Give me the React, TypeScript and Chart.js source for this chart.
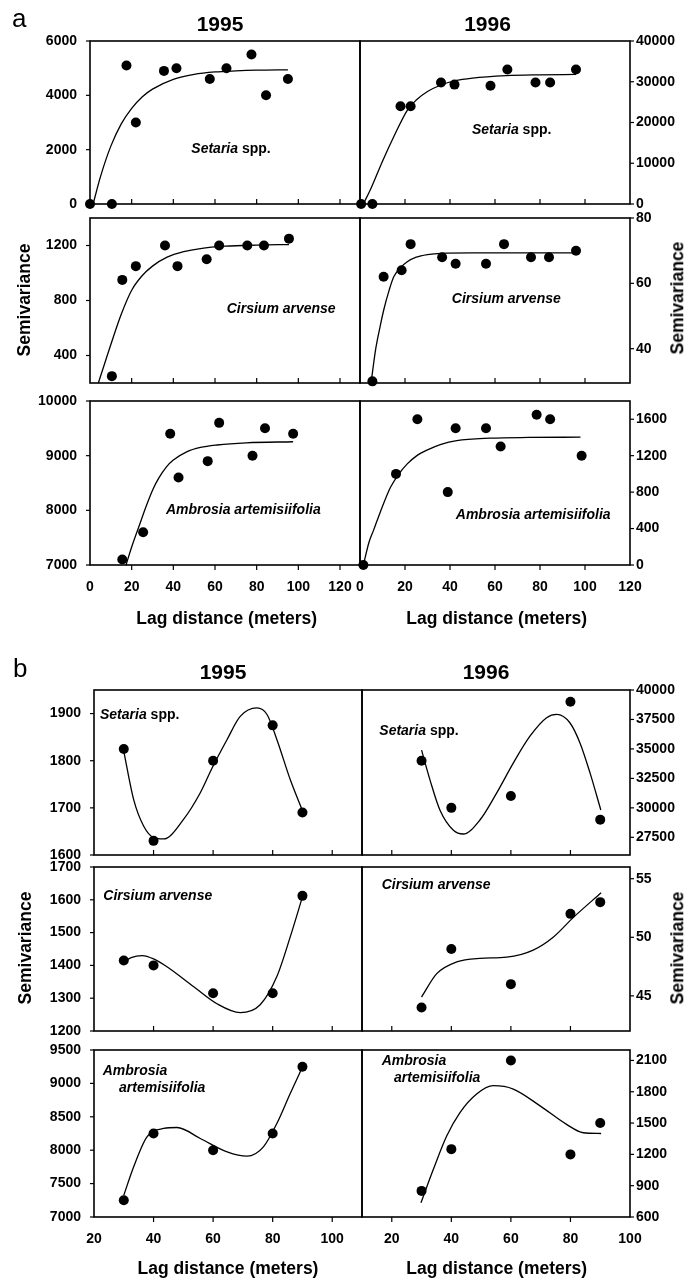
import React, { useEffect, useRef } from "react";
import { Chart, registerables } from "chart.js";

Chart.register(...registerables);

const FONT = "'Liberation Sans', Arial, Helvetica, sans-serif";

// ---------------- Part a : data (lag distance, semivariance) ----------------
const aSet95Lag = [0, 10.5, 17.5, 22, 35.5, 41.5, 57.5, 65.5, 77.5, 84.5, 95];
const aSet95Gam = [0, 0, 5100, 3000, 4900, 5000, 4600, 5000, 5500, 4000, 4600];
const aSet95FitLag = [1.5, 5, 10, 15, 20, 25, 30, 40, 50, 60, 70, 80, 95];
const aSet95FitGam = [0, 1000, 2130, 2950, 3520, 3940, 4230, 4590, 4770, 4860, 4900, 4925, 4940];

const aSet96Lag = [0.5, 5.5, 18, 22.5, 36, 42, 58, 65.5, 78, 84.5, 96];
const aSet96Gam = [0, 0, 24000, 24000, 29800, 29300, 29000, 33000, 29800, 29800, 33000];
const aSet96FitLag = [1.5, 5, 10, 15, 21, 25, 30, 36, 42, 50, 65, 80, 96];
const aSet96FitGam = [0, 4000, 10500, 16500, 23000, 25500, 27600, 29200, 30200, 30900, 31500, 31700, 31800];

const aCir95Lag = [10.5, 15.5, 22, 36, 42, 56, 62, 75.5, 83.5, 95.5];
const aCir95Gam = [250, 950, 1050, 1200, 1050, 1100, 1200, 1200, 1200, 1250];
const aCir95FitLag = [4, 7, 10, 15, 20, 25, 30, 37, 45, 53, 65, 80, 95.5];
const aCir95FitGam = [200, 340, 480, 700, 875, 980, 1050, 1115, 1155, 1178, 1195, 1203, 1207];

const aCir96Lag = [5.5, 10.5, 18.5, 22.5, 36.5, 42.5, 56, 64, 76, 84, 96];
const aCir96Gam = [30, 62, 64, 72, 68, 66, 66, 72, 68, 68, 70];
const aCir96FitLag = [5, 7, 9, 10.6, 13, 15, 18, 21, 25, 30, 36, 50, 96];
const aCir96FitGam = [30, 40, 47, 52, 58, 62, 64.8, 66.6, 68, 68.8, 69.2, 69.3, 69.3];

const aAmb95Lag = [15.5, 25.5, 38.5, 42.5, 56.5, 62, 78, 84, 97.5];
const aAmb95Gam = [7100, 7600, 9400, 8600, 8900, 9600, 9000, 9500, 9400];
const aAmb95FitLag = [17.3, 20, 24, 27, 30.4, 33, 36.8, 40, 46.4, 53, 61, 75, 97.5];
const aAmb95FitGam = [7000, 7330, 7760, 8080, 8400, 8590, 8800, 8920, 9070, 9150, 9195, 9235, 9255];

const aAmb96Lag = [1.5, 16, 25.5, 39, 42.5, 56, 62.5, 78.5, 84.5, 98.5];
const aAmb96Gam = [0, 1000, 1600, 800, 1500, 1500, 1300, 1650, 1600, 1200];
const aAmb96FitLag = [1.5, 4, 6, 9, 13.5, 17, 21, 25, 30, 36, 43, 58, 75, 98];
const aAmb96FitGam = [0, 250, 380, 580, 850, 990, 1110, 1195, 1264, 1325, 1366, 1392, 1400, 1403];

// ---------------- Part b : data ----------------
const bLag = [30, 40, 60, 80, 90];
const bSet95Gam = [1825, 1630, 1800, 1875, 1690];
const bSet96Gam = [34000, 30000, 31000, 39000, 29000];
const bCir95Gam = [1415, 1400, 1315, 1315, 1612];
const bCir96Gam = [44, 49, 46, 52, 53];
const bAmb95Gam = [7250, 8250, 8000, 8250, 9250];
const bAmb96Gam = [850, 1250, 2100, 1200, 1500];

const bSet95FitLag = [30, 33.3, 36.7, 40, 43.4, 50, 55.7, 59.7, 64.7, 69.1, 74.7, 78.1, 81.4, 85.9, 89.8];
const bSet95FitGam = [1820, 1718, 1661, 1637, 1634, 1675, 1732, 1785, 1845, 1894, 1912, 1898, 1845, 1760, 1697];
const bSet96FitLag = [30, 32.8, 36.2, 40.7, 44, 49.6, 55.2, 60.8, 66.4, 72, 75.4, 79.8, 83.2, 86.6, 90.2];
const bSet96FitGam = [34900, 32400, 29800, 28100, 27780, 28970, 31250, 33800, 36080, 37650, 37930, 37220, 35510, 32950, 29820];
const bCir95FitLag = [30, 32.5, 36.2, 40, 44.5, 53.5, 61.3, 69.1, 75.8, 81.4, 85.9, 90];
const bCir95FitGam = [1410, 1424, 1430, 1420, 1396, 1335, 1283, 1256, 1280, 1366, 1487, 1609];
const bCir96FitLag = [30, 35.1, 41.8, 49.6, 58.6, 67.5, 74.2, 81, 90.3];
const bCir96FitGam = [44.9, 46.9, 47.9, 48.2, 48.3, 48.9, 50.0, 51.7, 53.8];
const bAmb95FitLag = [30, 33.3, 37.8, 43.4, 47.9, 55.7, 64.7, 71.4, 76.9, 81.4, 85.9, 89.8];
const bAmb95FitGam = [7325, 7750, 8200, 8325, 8340, 8175, 7975, 7910, 8050, 8400, 8850, 9225];
const bAmb96FitLag = [29.8, 33.9, 38.4, 42.9, 48.5, 54.1, 60.8, 69.8, 78.7, 84.3, 90.3];
const bAmb96FitGam = [736, 1052, 1374, 1600, 1778, 1858, 1826, 1665, 1487, 1407, 1400];

// ---------------- tick labels ----------------
const aXTicks = [0, 20, 40, 60, 80, 100, 120];
const bXTicks = [20, 40, 60, 80, 100];
const aSet95YTicks = [0, 2000, 4000, 6000];
const aSet96YTicks = [0, 10000, 20000, 30000, 40000];
const aCir95YTicks = [400, 800, 1200];
const aCir96YTicks = [40, 60, 80];
const aAmb95YTicks = [7000, 8000, 9000, 10000];
const aAmb96YTicks = [0, 400, 800, 1200, 1600];
const bSet95YTicks = [1600, 1700, 1800, 1900];
const bSet96YTicks = [27500, 30000, 32500, 35000, 37500, 40000];
const bCir95YTicks = [1200, 1300, 1400, 1500, 1600, 1700];
const bCir96YTicks = [45, 50, 55];
const bAmb95YTicks = [7000, 7500, 8000, 8500, 9000, 9500];
const bAmb96YTicks = [600, 900, 1200, 1500, 1800, 2100];

// ---------------- layout ----------------
const PAD = 12;
const YWL = 80;
const YWR = 60;
const XH = 40;

type PanelCfg = {
  left: number; top: number; width: number; height: number;
  side: "left" | "right";
  xMin: number; xMax: number; xTicks: number[]; xMarks: number[]; xLabels: boolean; xInward: boolean;
  yMin: number; yMax: number; yTicks: number[];
  lag: number[]; gam: number[]; fitLag: number[]; fitGam: number[];
};

const aColL = { left: 90, width: 270, side: "left" as const, xMin: 0, xMax: 129.6, xTicks: aXTicks, xMarks: [20, 40, 60, 80, 100, 120] };
const aColR = { left: 360, width: 270, side: "right" as const, xMin: 0, xMax: 120, xTicks: aXTicks, xMarks: [20, 40, 60, 80, 100] };
const bColL = { left: 94, width: 268, side: "left" as const, xMin: 20, xMax: 110, xTicks: bXTicks, xMarks: [40, 60, 80, 100] };
const bColR = { left: 362, width: 268, side: "right" as const, xMin: 10, xMax: 100, xTicks: bXTicks, xMarks: [20, 40, 60, 80] };
const aRows = [
  { top: 41, height: 163, xLabels: false, xInward: true },
  { top: 218, height: 165, xLabels: false, xInward: true },
  { top: 401, height: 164, xLabels: true, xInward: false },
];
const bRows = [
  { top: 690, height: 165, xLabels: false, xInward: true },
  { top: 867, height: 164, xLabels: false, xInward: true },
  { top: 1050, height: 167, xLabels: true, xInward: false },
];

const PANELS: PanelCfg[] = [
  { ...aColL, ...aRows[0], yMin: 0, yMax: 6000, yTicks: aSet95YTicks, lag: aSet95Lag, gam: aSet95Gam, fitLag: aSet95FitLag, fitGam: aSet95FitGam },
  { ...aColR, ...aRows[0], yMin: 0, yMax: 40000, yTicks: aSet96YTicks, lag: aSet96Lag, gam: aSet96Gam, fitLag: aSet96FitLag, fitGam: aSet96FitGam },
  { ...aColL, ...aRows[1], yMin: 200, yMax: 1400, yTicks: aCir95YTicks, lag: aCir95Lag, gam: aCir95Gam, fitLag: aCir95FitLag, fitGam: aCir95FitGam },
  { ...aColR, ...aRows[1], yMin: 29.5, yMax: 80, yTicks: aCir96YTicks, lag: aCir96Lag, gam: aCir96Gam, fitLag: aCir96FitLag, fitGam: aCir96FitGam },
  { ...aColL, ...aRows[2], yMin: 7000, yMax: 10000, yTicks: aAmb95YTicks, lag: aAmb95Lag, gam: aAmb95Gam, fitLag: aAmb95FitLag, fitGam: aAmb95FitGam },
  { ...aColR, ...aRows[2], yMin: 0, yMax: 1800, yTicks: aAmb96YTicks, lag: aAmb96Lag, gam: aAmb96Gam, fitLag: aAmb96FitLag, fitGam: aAmb96FitGam },
  { ...bColL, ...bRows[0], yMin: 1600, yMax: 1950, yTicks: bSet95YTicks, lag: bLag, gam: bSet95Gam, fitLag: bSet95FitLag, fitGam: bSet95FitGam },
  { ...bColR, ...bRows[0], yMin: 26000, yMax: 40000, yTicks: bSet96YTicks, lag: bLag, gam: bSet96Gam, fitLag: bSet96FitLag, fitGam: bSet96FitGam },
  { ...bColL, ...bRows[1], yMin: 1200, yMax: 1700, yTicks: bCir95YTicks, lag: bLag, gam: bCir95Gam, fitLag: bCir95FitLag, fitGam: bCir95FitGam },
  { ...bColR, ...bRows[1], yMin: 42, yMax: 56, yTicks: bCir96YTicks, lag: bLag, gam: bCir96Gam, fitLag: bCir96FitLag, fitGam: bCir96FitGam },
  { ...bColL, ...bRows[2], yMin: 7000, yMax: 9500, yTicks: bAmb95YTicks, lag: bLag, gam: bAmb95Gam, fitLag: bAmb95FitLag, fitGam: bAmb95FitGam },
  { ...bColR, ...bRows[2], yMin: 600, yMax: 2200, yTicks: bAmb96YTicks, lag: bLag, gam: bAmb96Gam, fitLag: bAmb96FitLag, fitGam: bAmb96FitGam },
];

function zeroPadding(s: any) {
  s.paddingTop = 0;
  s.paddingBottom = 0;
  s.paddingLeft = 0;
  s.paddingRight = 0;
}

function Panel({ cfg }: { cfg: PanelCfg }) {
  const ref = useRef<HTMLCanvasElement>(null);
  const isLeft = cfg.side === "left";
  const cw = (isLeft ? YWL : PAD) + cfg.width + (isLeft ? PAD : YWR);
  const ch = PAD + cfg.height + (cfg.xLabels ? XH : PAD);
  const cl = cfg.left - (isLeft ? YWL : PAD);
  const ct = cfg.top - PAD;

  useEffect(() => {
    const tickFont = { family: FONT, size: 14, weight: "bold" as const };
    const framePlugin = {
      id: "frameTicks",
      beforeDatasetsDraw(chart: any) {
        const { ctx, chartArea: a, scales } = chart;
        ctx.save();
        ctx.strokeStyle = "#000";
        ctx.lineWidth = 1.6;
        ctx.strokeRect(a.left, a.top, a.right - a.left, a.bottom - a.top);
        ctx.lineWidth = 1.2;
        for (const v of cfg.xMarks) {
          const px = scales.x.getPixelForValue(v);
          ctx.beginPath();
          ctx.moveTo(px, a.bottom);
          ctx.lineTo(px, cfg.xInward ? a.bottom - 5 : a.bottom + 5);
          ctx.stroke();
        }
        for (const v of cfg.yTicks) {
          const py = scales.y.getPixelForValue(v);
          ctx.beginPath();
          if (isLeft) {
            ctx.moveTo(a.left, py);
            ctx.lineTo(a.left - 4, py);
          } else {
            ctx.moveTo(a.right, py);
            ctx.lineTo(a.right + 4, py);
          }
          ctx.stroke();
        }
        ctx.restore();
      },
    };
    const chart = new Chart(ref.current as HTMLCanvasElement, {
      type: "scatter",
      data: {
        datasets: [
          {
            data: cfg.lag.map((x, i) => ({ x, y: cfg.gam[i] })),
            pointRadius: 5,
            pointBackgroundColor: "#000",
            pointBorderColor: "#000",
            pointBorderWidth: 0,
            showLine: false,
            clip: false as any,
            order: 0,
          },
          {
            data: cfg.fitLag.map((x, i) => ({ x, y: cfg.fitGam[i] })),
            showLine: true,
            pointRadius: 0,
            borderColor: "#000",
            borderWidth: 1.3,
            cubicInterpolationMode: "monotone",
            fill: false,
            clip: false as any,
            order: 1,
          } as any,
        ],
      },
      options: {
        responsive: false,
        animation: false,
        devicePixelRatio: 1,
        events: [],
        layout: {
          autoPadding: false,
          padding: {
            left: isLeft ? 0 : PAD,
            right: isLeft ? PAD : 0,
            top: PAD,
            bottom: cfg.xLabels ? 0 : PAD,
          },
        },
        plugins: { legend: { display: false }, tooltip: { enabled: false } },
        scales: {
          x: {
            type: "linear",
            position: "bottom",
            min: cfg.xMin,
            max: cfg.xMax,
            display: cfg.xLabels,
            grid: { display: false, drawTicks: false },
            border: { display: false },
            ticks: {
              font: tickFont,
              color: "#000",
              padding: 14,
              maxRotation: 0,
              autoSkip: false,
              callback: (v: any) => String(v),
            },
            afterBuildTicks: (s: any) => {
              s.ticks = cfg.xTicks.map((v) => ({ value: v }));
            },
            afterFit: (s: any) => {
              s.height = cfg.xLabels ? XH : 0;
              zeroPadding(s);
            },
          },
          y: {
            type: "linear",
            position: cfg.side,
            min: cfg.yMin,
            max: cfg.yMax,
            grid: { display: false, drawTicks: false },
            border: { display: false },
            ticks: {
              font: tickFont,
              color: "#000",
              padding: isLeft ? 13 : 6,
              autoSkip: false,
              callback: (v: any) => String(v),
            },
            afterBuildTicks: (s: any) => {
              s.ticks = cfg.yTicks.map((v) => ({ value: v }));
            },
            afterFit: (s: any) => {
              s.width = isLeft ? YWL : YWR;
              zeroPadding(s);
            },
          },
        },
      },
      plugins: [framePlugin],
    } as any);
    return () => chart.destroy();
  }, []);

  return (
    <canvas
      ref={ref}
      width={cw}
      height={ch}
      style={{ position: "absolute", left: cl, top: ct, width: cw, height: ch }}
    />
  );
}

const base: React.CSSProperties = {
  position: "absolute",
  fontFamily: FONT,
  color: "#000",
  lineHeight: 1,
  whiteSpace: "nowrap",
};

function Center({ x, y, size, bold = true, rotate = false, children }: any) {
  return (
    <div
      style={{
        ...base,
        left: x,
        top: y,
        fontSize: size,
        fontWeight: bold ? "bold" : "normal",
        transform: `translate(-50%, -50%)${rotate ? " rotate(-90deg)" : ""}`,
      }}
    >
      {children}
    </div>
  );
}

function LeftText({ x, y, size, children }: any) {
  return (
    <div style={{ ...base, left: x, top: y, fontSize: size, fontWeight: "bold", transform: "translateY(-50%)" }}>
      {children}
    </div>
  );
}

export default function App() {
  return (
    <div style={{ position: "absolute", left: 0, top: 0, width: 699, height: 1281, background: "#fff", overflow: "hidden" }}>
      {PANELS.map((p, i) => (
        <Panel key={i} cfg={p} />
      ))}

      {/* panel letters & year titles */}
      <div style={{ ...base, left: 12, top: 5, fontSize: 26 }}>a</div>
      <div style={{ ...base, left: 13, top: 655, fontSize: 26 }}>b</div>
      <Center x={220} y={22.5} size={21}>1995</Center>
      <Center x={487.5} y={22.5} size={21}>1996</Center>
      <Center x={223} y={671} size={21}>1995</Center>
      <Center x={486} y={671} size={21}>1996</Center>

      {/* axis titles */}
      <Center x={24.5} y={300} size={17.5} rotate>Semivariance</Center>
      <Center x={678} y={298} size={17.5} rotate>Semivariance</Center>
      <Center x={25.5} y={948} size={17.5} rotate>Semivariance</Center>
      <Center x={678} y={948} size={17.5} rotate>Semivariance</Center>
      <Center x={226.7} y={619} size={17.5}>Lag distance (meters)</Center>
      <Center x={496.7} y={619} size={17.5}>Lag distance (meters)</Center>
      <Center x={228} y={1269} size={17.5}>Lag distance (meters)</Center>
      <Center x={496.7} y={1269} size={17.5}>Lag distance (meters)</Center>

      {/* species labels, part a */}
      <Center x={231} y={148} size={14}><i>Setaria</i> spp.</Center>
      <Center x={511.7} y={129} size={14}><i>Setaria</i> spp.</Center>
      <Center x={281.2} y={308} size={14}><i>Cirsium arvense</i></Center>
      <Center x={506.3} y={297.5} size={14}><i>Cirsium arvense</i></Center>
      <Center x={243.3} y={508.7} size={14}><i>Ambrosia artemisiifolia</i></Center>
      <Center x={533.2} y={513.8} size={14}><i>Ambrosia artemisiifolia</i></Center>

      {/* species labels, part b */}
      <LeftText x={100} y={714} size={14}><i>Setaria</i> spp.</LeftText>
      <LeftText x={379.3} y={730} size={14}><i>Setaria</i> spp.</LeftText>
      <LeftText x={103.3} y={895} size={14}><i>Cirsium arvense</i></LeftText>
      <LeftText x={381.7} y={884} size={14}><i>Cirsium arvense</i></LeftText>
      <LeftText x={102.7} y={1070} size={14}><i>Ambrosia</i></LeftText>
      <LeftText x={119} y={1087.3} size={14}><i>artemisiifolia</i></LeftText>
      <LeftText x={381.7} y={1060} size={14}><i>Ambrosia</i></LeftText>
      <LeftText x={394} y={1077.3} size={14}><i>artemisiifolia</i></LeftText>
    </div>
  );
}
